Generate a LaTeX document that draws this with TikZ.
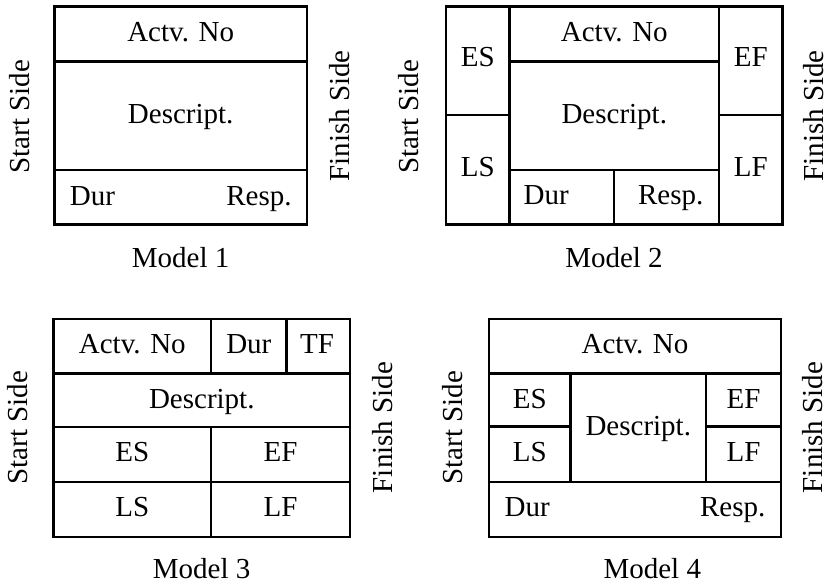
\documentclass[tikz,border=0pt]{standalone}
\usepackage{fontspec}
\setmainfont{Liberation Serif}
\begin{document}
\begin{tikzpicture}[x=0.5pt,y=-0.5pt,
  rule/.style={line width=1.3pt},
  txt/.style={inner sep=0pt, font=\fontsize{14.5pt}{17pt}\selectfont},
  lbl/.style={txt, anchor=base},
  lft/.style={txt, anchor=base west},
  rgt/.style={txt, anchor=base east},
  side/.style={txt, rotate=90, anchor=center}]
\fill[white] (0,0) rectangle (831,584);
\useasboundingbox (0,0) rectangle (831,584);

% ---- Model 1 ----
\draw[rule] (54.3,6.7) rectangle (307,224.3);
\draw[rule] (54.3,61.7) -- (307,61.7) (54.3,170) -- (307,170);
\node[lbl] (m1no)   at (180.7,41.7) {Actv. No};
\node[lbl] (m1desc) at (180.7,123.5) {Descript.};
\node[lft] (m1dur)  at (69.5,205) {Dur};
\node[rgt] (m1resp) at (292,205) {Resp.};
\node[lbl] (m1cap)  at (180.7,267) {Model 1};
\node[side] (m1start)  at (19.5,116.5) {Start Side};
\node[side] (m1finish) at (340,116) {Finish Side};

% ---- Model 2 ----
\draw[rule] (446,6.7) rectangle (782.3,224.3);
\draw[rule] (509.7,6.7) -- (509.7,224.3) (719,6.7) -- (719,224.3);
\draw[rule] (509.7,61.7) -- (719,61.7) (509.7,170) -- (719,170)
            (614,170) -- (614,224.3);
\draw[rule] (446,115) -- (509.7,115) (719,115) -- (782.3,115);
\node[lbl] (m2es)   at (477.8,66.7) {ES};
\node[lbl] (m2ls)   at (477.8,176.7) {LS};
\node[lbl] (m2ef)   at (750.7,66.7) {EF};
\node[lbl] (m2lf)   at (750.7,176.7) {LF};
\node[lbl] (m2no)   at (614.3,41.7) {Actv. No};
\node[lbl] (m2desc) at (614.3,123.5) {Descript.};
\node[lft] (m2dur)  at (523.3,204.5) {Dur};
\node[rgt] (m2resp) at (703.7,204.5) {Resp.};
\node[lbl] (m2cap)  at (614,267) {Model 2};
\node[side] (m2start)  at (409,116.5) {Start Side};
\node[side] (m2finish) at (814,116) {Finish Side};

% ---- Model 3 ----
\draw[rule] (53.7,319) rectangle (350,537);
\draw[rule] (53.7,373.3) -- (350,373.3) (53.7,427) -- (350,427)
            (53.7,482) -- (350,482);
\draw[rule] (211,319) -- (211,373.3) (286.7,319) -- (286.7,373.3)
            (211,427) -- (211,537);
\node[lbl] (m3no)   at (132.3,353.3) {Actv. No};
\node[lbl] (m3dur)  at (248.8,353.3) {Dur};
\node[lbl] (m3tf)   at (317,353.3) {TF};
\node[lbl] (m3desc) at (201.8,408.3) {Descript.};
\node[lbl] (m3es)   at (132.3,461.7) {ES};
\node[lbl] (m3ef)   at (280.5,461.7) {EF};
\node[lbl] (m3ls)   at (132.3,516.7) {LS};
\node[lbl] (m3lf)   at (280.5,516.7) {LF};
\node[lbl] (m3cap)  at (201.7,578) {Model 3};
\node[side] (m3start)  at (18,427.5) {Start Side};
\node[side] (m3finish) at (382.5,427.5) {Finish Side};

% ---- Model 4 ----
\draw[rule] (489,319) rectangle (781,537);
\draw[rule] (489,373.3) -- (781,373.3) (489,482) -- (781,482);
\draw[rule] (570.7,373.3) -- (570.7,482) (706,373.3) -- (706,482);
\draw[rule] (489,426.7) -- (570.7,426.7) (706,426.7) -- (781,426.7);
\node[lbl] (m4no)   at (635,353.3) {Actv. No};
\node[lbl] (m4es)   at (529.8,408.3) {ES};
\node[lbl] (m4ls)   at (529.8,461.7) {LS};
\node[lbl] (m4ef)   at (743.5,408.3) {EF};
\node[lbl] (m4lf)   at (743.5,461.7) {LF};
\node[lbl] (m4desc) at (638.3,435.5) {Descript.};
\node[lft] (m4dur)  at (504.3,516.7) {Dur};
\node[rgt] (m4resp) at (765.7,516.7) {Resp.};
\node[lbl] (m4cap)  at (652.3,578) {Model 4};
\node[side] (m4start)  at (452.5,427.5) {Start Side};
\node[side] (m4finish) at (813,427.5) {Finish Side};
\end{tikzpicture}
\end{document}
